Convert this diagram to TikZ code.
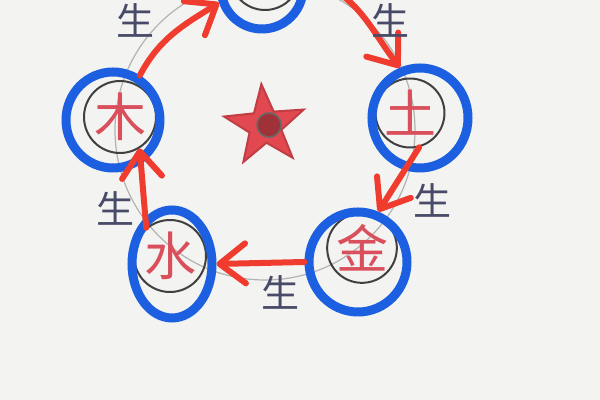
\documentclass[tikz,border=0pt]{standalone}
\usepackage{fontspec}
\usepackage{tikz}
\usetikzlibrary{arrows.meta, positioning, shapes.geometric}
\newfontfamily\cjk{Noto Sans CJK SC}
\definecolor{paper}{HTML}{F3F3F1}
\definecolor{ringblue}{HTML}{1C5FE0}
\definecolor{arrowred}{HTML}{F03C2E}
\definecolor{charred}{HTML}{DA4F5C}
\definecolor{inkgray}{HTML}{484B68}
\definecolor{starred}{HTML}{E24850}

\begin{document}
\begin{tikzpicture}[x=0.5pt, y=0.5pt,
  element/.style={circle, draw=black!75, line width=1pt, text=charred, inner sep=0pt, font=\cjk\fontsize{26}{26}\selectfont},
  ring/.style={ellipse, draw=ringblue, line width=4.5pt, inner sep=0pt},
  genarrow/.style={draw=arrowred, line width=3pt, line cap=round, -{Straight Barb[length=13pt, width=20pt, round]}},
  sheng/.style={text=inkgray, inner sep=0pt, font=\cjk\fontsize{19}{19}\selectfont}]
\useasboundingbox (0,0) rectangle (600,400);
\fill[paper] (0,0) rectangle (600,400);
\clip (0,0) rectangle (600,400);

% Pencil guide
\draw[black!30, line width=0.6pt] (265,270) circle [radius=150];

% Elements
\node[element, minimum size=36pt] (wood) at (120,283) {木};
\node[element, minimum size=35pt] (fire) at (265,425) {};
\node[element, minimum size=34pt] (earth) at (410,287) {土};
\node[element, minimum size=33pt] (metal) at (362,152) {金};
\node[element, minimum size=36pt] (water) at (170,144) {水};

% Rings
\node[ring, minimum width=47pt, minimum height=48pt] (woodring) at (113,280) {};
\node[ring, minimum width=41pt, minimum height=41pt] (firering) at (262,412) {};
\node[ring, minimum width=48pt, minimum height=50pt] (earthring) at (420,282) {};
\node[ring, minimum width=49pt, minimum height=50pt] (metalring) at (358,138) {};
\node[ring, minimum width=40pt, minimum height=54pt] (waterring) at (172,136) {};

% Star
\node[star, star points=5, star point ratio=2.5, minimum size=42pt, inner sep=0pt, fill=starred, draw=starred!85!black, line width=1pt, rotate=5] (star) at (265,274) {};
\node[circle, minimum size=12pt, inner sep=0pt, fill=starred!70!black, draw=black!60, line width=0.8pt] (starcore) at (269,275) {};

% Arrows for the generating cycle
\draw[genarrow] (woodring.59) to[out=62, in=212] (firering.199);
\draw[genarrow] (firering.10) to[out=-12, in=127] (earthring.112);
\draw[genarrow] (earth.-75) -- (metalring.68);
\draw[genarrow] (metalring.180) -- (waterring.0);
\draw[genarrow] (water.130) -- (wood.-58);

% Labels
\node[sheng] (sheng1) at (135,380) {生};
\node[sheng] (sheng2) at (390,380) {生};
\node[sheng] (sheng3) at (432,200) {生};
\node[sheng] (sheng4) at (115,192) {生};
\node[sheng] (sheng5) at (280,108) {生};
\end{tikzpicture}
\end{document}
